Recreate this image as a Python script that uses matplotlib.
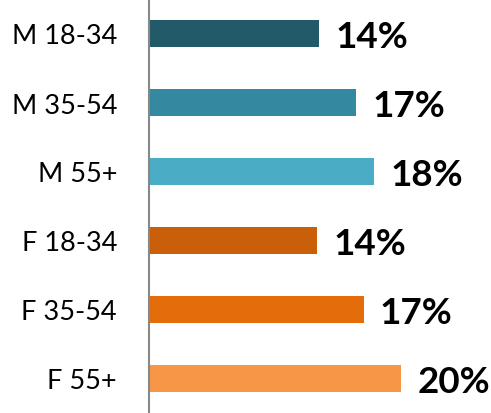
import matplotlib.pyplot as plt

categorias = ['M 18-34', 'M 35-54', 'M 55+', 'F 18-34', 'F 35-54', 'F 55+']
valores = [13.45, 16.4, 17.8, 13.3, 17.0, 20.0]
rotulos = ['14%', '17%', '18%', '14%', '17%', '20%']
cores = ['#235A69', '#3488A0', '#4BACC6', '#C95F09', '#E46C0A', '#F79646']

fig = plt.figure(figsize=(4.91, 4.14), dpi=100)
ax = fig.add_axes([149 / 491, 0, 342 / 491, 1])

pos = list(range(len(categorias)))
ax.barh(pos, valores, height=0.4, color=cores)

for p, v, r in zip(pos, valores, rotulos):
    ax.text(v + 1.3, p + 0.04, r, va='center', ha='left',
            fontsize=26.5, fontweight='bold', family='Lato')

ax.set_yticks(pos)
ax.set_yticklabels(categorias, fontsize=19.5, family='Lato')
ax.tick_params(axis='y', length=0, pad=23)
ax.set_xticks([])
ax.set_xlim(0, 27.1)
ax.set_ylim(5.5, -0.5)

for s in ['top', 'right', 'bottom']:
    ax.spines[s].set_visible(False)
ax.spines['left'].set_color('#888888')
ax.spines['left'].set_linewidth(1.5)

plt.savefig('out.png', dpi=100)
